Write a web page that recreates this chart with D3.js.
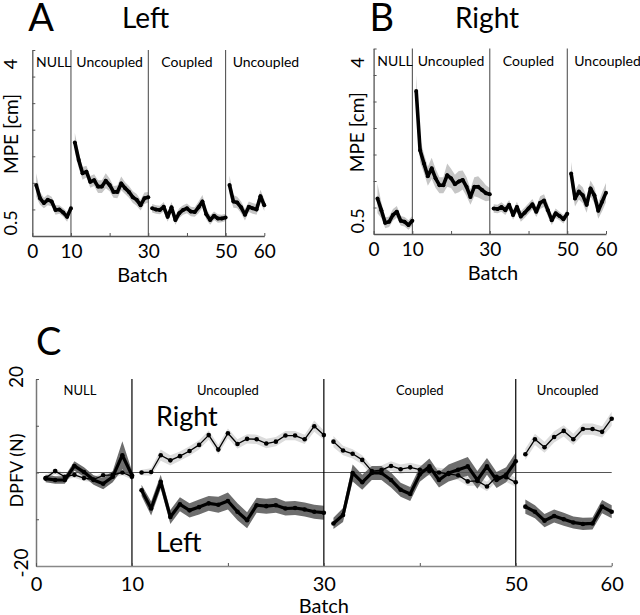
<!DOCTYPE html>
<html><head><meta charset="utf-8">
<script src="https://cdn.jsdelivr.net/npm/d3@7"></script>
<style>body{margin:0;background:#fff} svg{display:block;font-family:Lato, "Open Sans", sans-serif}</style>
</head><body><svg id="c" width="640" height="615"></svg>
<script>
// ---------- data ----------
const phaseNames = ["NULL", "Uncoupled", "Coupled", "Uncoupled"];
const phaseBounds = [0, 10, 30, 50, 60];
const xTicks = [0, 10, 20, 30, 40, 50, 60];
const xTickLabels = ["0", "10", "", "30", "", "50", "60"];
const mpeTicks = [0.5, 1, 1.5, 2, 2.5, 3, 3.5, 4];
const mpeTickLabels = ["0.5", "4"];
const dpfvTicks = [-20, -10, 0, 10, 20];
const dpfvTickLabels = ["-20", "20"];
const batches = d3.range(1, 61);

const mpeLeft = [1.46,1.21,1.12,1.18,1.15,0.99,1.00,0.94,0.86,1.02,
  2.26,1.93,1.68,1.71,1.52,1.55,1.43,1.43,1.54,1.46,1.33,1.33,1.49,1.40,1.33,1.23,1.18,1.08,1.21,1.23,
  1.02,1.00,0.99,1.05,0.86,1.04,0.80,0.93,0.99,1.02,0.96,0.95,1.04,1.15,0.91,0.80,0.88,0.83,0.83,0.85,
  1.46,1.15,1.13,1.04,0.90,1.05,1.02,1.00,1.25,1.08];
const mpeLeftSE = [0.22,0.12,0.10,0.10,0.09,0.09,0.08,0.08,0.09,0.08,
  0.18,0.15,0.12,0.11,0.11,0.11,0.12,0.12,0.14,0.12,0.11,0.12,0.13,0.11,0.11,0.11,0.11,0.10,0.11,0.10,
  0.08,0.08,0.08,0.09,0.09,0.10,0.09,0.09,0.09,0.09,0.09,0.09,0.11,0.12,0.10,0.09,0.08,0.08,0.07,0.07,
  0.18,0.12,0.11,0.11,0.11,0.10,0.10,0.10,0.12,0.11];
const mpeRight = [1.17,0.95,0.71,0.73,0.86,0.92,0.75,0.73,0.67,0.75,
  3.20,2.08,1.83,1.59,1.74,1.55,1.42,1.42,1.61,1.55,1.44,1.49,1.52,1.39,1.20,1.39,1.39,1.33,1.27,1.25,
  0.98,0.97,1.01,0.95,1.05,0.86,1.01,0.83,0.90,0.98,1.06,0.92,1.09,1.13,0.95,0.76,0.89,0.84,0.78,0.88,
  1.64,1.17,1.30,1.23,1.05,1.36,1.23,0.94,1.11,1.28];
const mpeRightSE = [0.28,0.15,0.10,0.10,0.11,0.11,0.09,0.09,0.09,0.09,
  0.30,0.22,0.18,0.18,0.20,0.18,0.15,0.15,0.22,0.18,0.18,0.20,0.18,0.18,0.15,0.18,0.20,0.18,0.15,0.12,
  0.08,0.08,0.09,0.09,0.09,0.09,0.10,0.10,0.10,0.10,0.10,0.10,0.12,0.12,0.12,0.09,0.09,0.08,0.08,0.08,
  0.22,0.15,0.15,0.15,0.15,0.15,0.15,0.15,0.18,0.18];

const dpfvRight = [-1.2,0.3,-0.9,-0.5,-1.2,-1.5,-0.6,-0.5,0.0,-0.9,
  0.0,0.1,3.7,2.6,3.5,4.6,5.9,8.0,4.9,8.4,6.1,7.2,7.1,6.2,6.6,7.9,7.9,7.1,9.9,8.0,
  6.6,4.7,4.0,2.7,0.3,0.5,1.4,0.7,1.1,0.6,0.3,0.0,-0.3,-0.6,-1.9,-1.8,-3.0,-0.9,-1.0,-2.1,
  3.9,7.1,5.4,7.6,8.9,7.1,9.3,9.3,8.7,11.5];
const dpfvRightSE = [0.6,0.6,0.6,0.6,0.6,0.6,0.6,0.6,0.6,0.6,
  0.6,0.8,1.2,1.1,1.0,1.0,1.0,1.0,1.0,1.0,1.0,1.0,1.0,1.0,1.0,1.0,1.0,1.0,1.2,1.0,
  1.2,1.0,1.0,1.0,1.0,1.0,1.0,1.0,1.0,1.0,1.0,1.0,1.0,1.0,1.0,1.0,1.0,1.0,1.0,1.0,
  1.2,1.2,1.2,1.2,1.2,1.2,1.2,1.2,1.2,1.5];
const dpfvLeft = [-1.3,-1.6,-1.6,1.4,0.1,-1.6,-2.4,-0.9,3.7,-0.6,
  -3.8,-7.7,-2.0,-9.5,-6.8,-8.1,-7.4,-6.6,-6.9,-6.1,-8.4,-10.2,-7.0,-7.2,-7.0,-7.7,-7.6,-7.9,-8.4,-8.6,
  -10.9,-9.1,-0.1,-2.1,-0.1,-0.1,-1.6,-3.7,-4.6,-0.4,1.3,-1.6,-0.1,0.6,1.3,-1.6,1.3,-1.6,-0.5,2.4,
  -7.3,-8.4,-10.3,-9.3,-10.0,-10.7,-11.0,-10.9,-7.3,-8.4];
const dpfvLeftSE = [0.8,0.8,0.8,1.0,1.0,1.0,1.2,1.2,3.0,1.0,
  1.2,1.5,1.5,1.5,1.5,1.5,1.6,1.6,1.7,1.8,1.8,1.7,1.6,1.6,1.6,1.5,1.5,1.5,1.5,1.5,
  1.2,1.5,1.8,1.6,1.5,1.5,1.6,1.5,1.5,1.6,1.7,1.6,1.8,1.9,2.0,1.9,1.8,1.7,1.6,1.9,
  1.5,1.4,1.4,1.4,1.4,1.3,1.3,1.3,1.4,1.4];

// ---------- drawing ----------
const svg = d3.select("#c");

function segments(vals, se) {
  const out = [];
  for (let i = 0; i < phaseBounds.length - 1; i++) {
    const seg = [];
    for (let k = phaseBounds[i]; k < phaseBounds[i + 1]; k++) {
      seg.push({b: batches[k], v: vals[k], e: se[k]});
    }
    out.push(seg);
  }
  return out;
}

function rotText(g, x, y, txt, size, anchor) {
  g.append("text").attr("transform", `translate(${x},${y}) rotate(-90)`)
    .attr("text-anchor", anchor || "middle").attr("font-size", size).attr("fill", "#000").text(txt);
}

function xAxisDraw(g, x, yb, pad) {
  const ax = g.append("g").attr("transform", `translate(0,${yb})`)
    .call(d3.axisBottom(x).tickValues(xTicks).tickSizeInner(-3).tickSizeOuter(0).tickPadding(pad)
      .tickFormat((d, i) => xTickLabels[i]));
  ax.select(".domain").attr("stroke", "#555").attr("stroke-width", 1.3);
  ax.selectAll(".tick line").attr("stroke", "#555");
  ax.selectAll("text").attr("font-family", "Lato, sans-serif").attr("font-size", 19).attr("fill", "#000");
  return ax;
}

function mpePanel(cfg) {
  const g = svg.append("g");
  const x = d3.scaleLinear().domain([0, 60]).range([cfg.x0, cfg.x1]);
  const y = d3.scaleLinear().domain([0.5, 4]).range([cfg.yb, cfg.yt]);

  const area = d3.area().x(d => x(d.b)).y0(d => y(d.v - d.e)).y1(d => y(d.v + d.e));
  const line = d3.line().x(d => x(d.b)).y(d => y(d.v));
  const segs = segments(cfg.vals, cfg.se);
  g.selectAll(".band").data(segs).join("path").attr("d", area).attr("fill", "#c6c6c6");

  g.selectAll(".div").data(phaseBounds.slice(1, -1)).join("line")
    .attr("x1", d => x(d)).attr("x2", d => x(d)).attr("y1", y(4)).attr("y2", y(0.5))
    .attr("stroke", "#444").attr("stroke-width", 1);

  g.selectAll(".ln").data(segs).join("path").attr("d", line).attr("fill", "none")
    .attr("stroke", "#000").attr("stroke-width", 3.6).attr("stroke-linejoin", "round");
  g.selectAll(".dot").data(segs.flat()).join("circle")
    .attr("cx", d => x(d.b)).attr("cy", d => y(d.v)).attr("r", 2).attr("fill", "#000");

  const ay = g.append("g").attr("transform", `translate(${cfg.x0},0)`)
    .call(d3.axisLeft(y).tickValues(mpeTicks).tickSizeInner(-3).tickSizeOuter(0).tickFormat(""));
  ay.select(".domain").attr("stroke", "#555").attr("stroke-width", 1.3);
  ay.selectAll(".tick line").attr("stroke", "#555");
  xAxisDraw(g, x, cfg.yb, 9);

  phaseNames.forEach((n, i) => {
    const last = i === phaseNames.length - 1;
    const xm = last ? x(phaseBounds[i]) + 7 : x((phaseBounds[i] + phaseBounds[i + 1]) / 2) + (i === 0 ? 2 : 0);
    g.append("text").attr("x", xm).attr("y", y(4) + 17).attr("text-anchor", last ? "start" : "middle")
      .attr("font-size", 14).text(n);
  });

  rotText(g, cfg.labelX, y(mpeTicks[0]) - 13, mpeTickLabels[0], 18);
  rotText(g, cfg.labelX, y(mpeTicks[mpeTicks.length - 1]) + 14, mpeTickLabels[1], 18);
  rotText(g, cfg.labelX + 0.5, (y(0.5) + y(4)) / 2 - 9, "MPE [cm]", 19);
  g.append("text").attr("x", cfg.batchX).attr("y", cfg.yb + 46).attr("text-anchor", "middle")
    .attr("font-size", 20).text("Batch");
  g.append("text").attr("x", cfg.x0 - 4).attr("y", 31).attr("font-size", 38).text(cfg.letter);
  g.append("text").attr("x", cfg.titleX).attr("y", 28).attr("font-size", 28).text(cfg.title);
}

mpePanel({x0: 32.3, x1: 264.3, yb: 236, yt: 50, vals: mpeLeft, se: mpeLeftSE, letter: "A", title: "Left",
  titleX: 122, labelX: 17, batchX: 142.5});
mpePanel({x0: 373.6, x1: 606, yb: 234, yt: 48.5, vals: mpeRight, se: mpeRightSE, letter: "B", title: "Right",
  titleX: 455, labelX: 363.5, batchX: 493});

// ---------- panel C ----------
(function () {
  const g = svg.append("g");
  const x = d3.scaleLinear().domain([0, 60]).range([36, 611.7]);
  const y = d3.scaleLinear().domain([-20, 20]).range([566, 379]);
  const area = d3.area().x(d => x(d.b)).y0(d => y(d.v - d.e)).y1(d => y(d.v + d.e));
  const line = d3.line().x(d => x(d.b)).y(d => y(d.v));
  const rs = segments(dpfvRight, dpfvRightSE);
  const ls = segments(dpfvLeft, dpfvLeftSE);

  g.selectAll(".rb").data(rs).join("path").attr("d", area).attr("fill", "#dcdcdc");
  g.selectAll(".lb").data(ls).join("path").attr("d", area).attr("fill", "#6e6e6e");

  g.append("line").attr("x1", x(0)).attr("x2", x(60)).attr("y1", y(0)).attr("y2", y(0))
    .attr("stroke", "#555").attr("stroke-width", 1.2);
  g.selectAll(".div").data(phaseBounds.slice(1, -1)).join("line")
    .attr("x1", d => x(d)).attr("x2", d => x(d)).attr("y1", y(20)).attr("y2", y(-20))
    .attr("stroke", "#000").attr("stroke-width", 1.2);

  g.selectAll(".ll").data(ls).join("path").attr("d", line).attr("fill", "none")
    .attr("stroke", "#000").attr("stroke-width", 3.2).attr("stroke-linejoin", "round");
  g.selectAll(".ld").data(ls.flat()).join("circle")
    .attr("cx", d => x(d.b)).attr("cy", d => y(d.v)).attr("r", 2.3).attr("fill", "#000");
  g.selectAll(".rl").data(rs).join("path").attr("d", line).attr("fill", "none")
    .attr("stroke", "#000").attr("stroke-width", 1.3).attr("stroke-linejoin", "round");
  g.selectAll(".rd").data(rs.flat()).join("circle")
    .attr("cx", d => x(d.b)).attr("cy", d => y(d.v)).attr("r", 2.3).attr("fill", "#000");

  const ay = g.append("g").attr("transform", `translate(${x(0)},0)`)
    .call(d3.axisLeft(y).tickValues(dpfvTicks).tickSizeInner(-3).tickSizeOuter(0).tickFormat(""));
  ay.select(".domain").attr("stroke", "#777").attr("stroke-width", 1.5);
  ay.selectAll(".tick line").attr("stroke", "#555");
  const ax = xAxisDraw(g, x, y(-20), 11);
  ax.select(".domain").attr("stroke", "#888").attr("stroke-width", 1.5);
  ax.selectAll("text").attr("font-size", 20);

  phaseNames.forEach((n, i) => {
    g.append("text").attr("x", x((phaseBounds[i] + phaseBounds[i + 1]) / 2) - (i === 0 ? 4 : 0) + (i === 3 ? 4 : 0))
      .attr("y", y(20) + 16).attr("text-anchor", "middle").attr("font-size", 13).text(n);
  });

  rotText(g, x(0) - 8, y(-20) - 3, dpfvTickLabels[0], 19);
  rotText(g, x(0) - 13, y(20) - 2, dpfvTickLabels[1], 19);
  rotText(g, x(0) - 13, y(0) - 2, "DPFV (N)", 18);
  g.append("text").attr("x", x(30)).attr("y", 613).attr("text-anchor", "middle").attr("font-size", 20).text("Batch");
  g.append("text").attr("x", 36).attr("y", 355).attr("font-size", 38).text("C");
  g.append("text").attr("x", 156).attr("y", 426).attr("font-size", 27).text("Right");
  g.append("text").attr("x", 156).attr("y", 552).attr("font-size", 27).text("Left");
})();
</script></body></html>
